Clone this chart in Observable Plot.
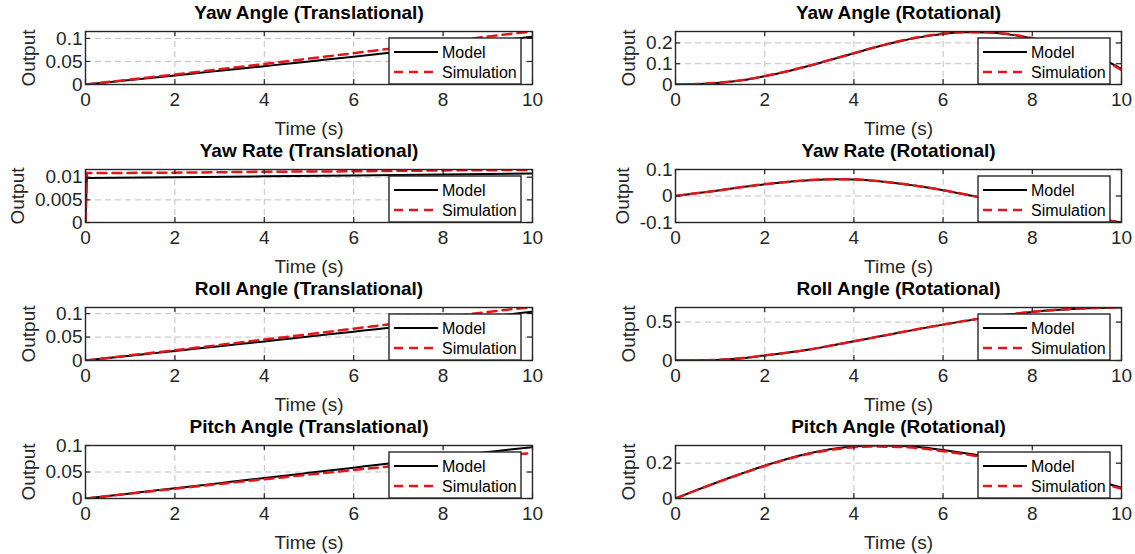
<!DOCTYPE html>
<html><head><meta charset="utf-8">
<script src="https://cdn.jsdelivr.net/npm/d3@7"></script>
<script src="https://cdn.jsdelivr.net/npm/@observablehq/plot@0.6"></script>
<style>
html,body{margin:0;padding:0;background:#fff;}
#fig{position:relative;width:1135px;height:554px;overflow:hidden;font-family:"Liberation Sans",Arial,Helvetica,sans-serif;}
#fig svg{position:absolute;overflow:visible;}
</style></head><body><div id="fig"></div>
<script>
// ---------- DATA ----------
const time = [0,0.5,1,1.5,2,2.5,3,3.5,4,4.5,5,5.5,6,6.5,7,7.5,8,8.5,9,9.5,10];
const xTicks = [0,2,4,6,8,10];
const xTickLabels = ["0","2","4","6","8","10"];
const seriesNames = ["Model","Simulation"];

const yawAngleTransModel = [0,0.005,0.0098,0.0147,0.0197,0.0247,0.0297,0.0347,0.0398,0.0449,0.0500,0.0552,0.0604,0.0656,0.0709,0.0762,0.0816,0.0870,0.0925,0.0980,0.1035];
const yawAngleTransSim   = [0,0.0054,0.0108,0.0163,0.0218,0.0274,0.0330,0.0387,0.0445,0.0503,0.0562,0.0621,0.0680,0.0740,0.0800,0.0860,0.0920,0.0980,0.1040,0.1098,0.1150];

const yawRateTransTime  = [0,0.03,2,4,6,8,10];
const yawRateTransModel = [0,0.0098,0.0100,0.0102,0.0104,0.0106,0.0108];
const yawRateTransSim   = [0,0.0109,0.0110,0.0112,0.0113,0.0115,0.0116];

const rollAngleTransModel = [0,0.0051,0.0102,0.0152,0.0203,0.0254,0.0305,0.0356,0.0407,0.0459,0.0511,0.0563,0.0615,0.0667,0.0720,0.0772,0.0825,0.0879,0.0932,0.0986,0.1040];
const rollAngleTransSim   = [0,0.0055,0.0110,0.0165,0.0220,0.0276,0.0332,0.0389,0.0446,0.0503,0.0561,0.0619,0.0678,0.0737,0.0796,0.0855,0.0915,0.0975,0.1035,0.1090,0.1135];

const pitchAngleTransModel = [0,0.0048,0.0096,0.0144,0.0193,0.0241,0.0290,0.0338,0.0387,0.0435,0.0484,0.0533,0.0582,0.0631,0.0680,0.0729,0.0778,0.0827,0.0876,0.0925,0.0970];
const pitchAngleTransSim   = [0,0.0046,0.0092,0.0138,0.0184,0.0229,0.0274,0.0319,0.0363,0.0407,0.0451,0.0494,0.0537,0.0579,0.0621,0.0663,0.0704,0.0745,0.0785,0.0825,0.0855];

const yawAngleRotModel = [0,0.002,0.008,0.020,0.040,0.063,0.090,0.120,0.150,0.180,0.207,0.228,0.243,0.251,0.250,0.240,0.222,0.198,0.168,0.130,0.075];
const yawAngleRotSim   = [0,0.002,0.009,0.021,0.041,0.064,0.091,0.121,0.151,0.181,0.208,0.230,0.245,0.253,0.252,0.242,0.223,0.198,0.167,0.128,0.070];

const yawRateRotModel = [0,0.011,0.022,0.034,0.044,0.053,0.059,0.063,0.062,0.057,0.047,0.036,0.022,0.006,-0.011,-0.028,-0.045,-0.060,-0.073,-0.086,-0.100];
const yawRateRotSim   = [0,0.011,0.022,0.034,0.045,0.053,0.060,0.063,0.063,0.057,0.048,0.036,0.022,0.006,-0.011,-0.028,-0.045,-0.060,-0.074,-0.087,-0.101];

const rollAngleRotModel = [0,0.002,0.010,0.030,0.065,0.100,0.142,0.195,0.250,0.305,0.360,0.415,0.467,0.516,0.560,0.600,0.632,0.657,0.674,0.685,0.690];
const rollAngleRotSim   = [0,0.002,0.010,0.031,0.066,0.101,0.143,0.196,0.251,0.306,0.361,0.416,0.467,0.517,0.561,0.601,0.634,0.659,0.676,0.687,0.692];

const pitchAngleRotModel = [0,0.050,0.098,0.143,0.186,0.224,0.256,0.280,0.295,0.300,0.299,0.290,0.274,0.256,0.236,0.212,0.185,0.156,0.125,0.095,0.062];
const pitchAngleRotSim   = [0,0.050,0.097,0.142,0.184,0.222,0.253,0.276,0.290,0.294,0.292,0.284,0.268,0.250,0.230,0.206,0.180,0.151,0.120,0.089,0.055];

const panelTitles = [
  "Yaw Angle (Translational)","Yaw Angle (Rotational)",
  "Yaw Rate (Translational)","Yaw Rate (Rotational)",
  "Roll Angle (Translational)","Roll Angle (Rotational)",
  "Pitch Angle (Translational)","Pitch Angle (Rotational)"
];
const panelTimes  = [time,time,yawRateTransTime,time,time,time,time,time];
const panelModels = [yawAngleTransModel,yawAngleRotModel,yawRateTransModel,yawRateRotModel,rollAngleTransModel,rollAngleRotModel,pitchAngleTransModel,pitchAngleRotModel];
const panelSims   = [yawAngleTransSim,yawAngleRotSim,yawRateTransSim,yawRateRotSim,rollAngleTransSim,rollAngleRotSim,pitchAngleTransSim,pitchAngleRotSim];
const panelYDomains = [[0,0.115],[0,0.255],[0,0.0117],[-0.1,0.1],[0,0.113],[0,0.69],[0,0.1],[0,0.3]];
const panelYTicks = [[0,0.05,0.1],[0,0.1,0.2],[0,0.005,0.01],[-0.1,0,0.1],[0,0.05,0.1],[0,0.5],[0,0.05,0.1],[0,0.2]];
const panelYTickLabels = [["0","0.05","0.1"],["0","0.1","0.2"],["0","0.005","0.01"],["-0.1","0","0.1"],["0","0.05","0.1"],["0","0.5"],["0","0.05","0.1"],["0","0.2"]];
const xLabel = "Time (s)";
const yLabel = "Output";

// ---------- LAYOUT / STYLE ----------
const FONT = '"Liberation Sans", Arial, Helvetica, sans-serif';
const TXT = "#262626";
const RED = "#e3171b";
const GRID = "#c0c0c0";
const cols = [{svgLeft:0, svgWidth:560, frameLeft:85, frameRight:532},
              {svgLeft:560, svgWidth:575, frameLeft:675, frameRight:1121}];
const rowH = 138, mTop = 31, frameH = 53;

const ctx = document.createElement("canvas").getContext("2d");
ctx.font = `19px ${FONT}`;

const fig = document.getElementById("fig");
panelTitles.forEach((title, i) => {
  const c = cols[i % 2], r = Math.floor(i / 2);
  const mL = c.frameLeft - c.svgLeft;
  const mR = c.svgLeft + c.svgWidth - c.frameRight;
  const W = c.frameRight - c.frameLeft;
  const tArr = panelTimes[i];
  const model = tArr.map((t, k) => ({t, v: panelModels[i][k]}));
  const sim = tArr.map((t, k) => ({t, v: panelSims[i][k]}));
  const yt = panelYTicks[i];
  const ytl = new Map(yt.map((v, k) => [v, panelYTickLabels[i][k]]));
  const xtl = new Map(xTicks.map((v, k) => [v, xTickLabels[k]]));
  const maxW = d3.max(panelYTickLabels[i], s => ctx.measureText(s).width);
  const curve = i === 2 ? "linear" : "monotone-x";

  const svg = Plot.plot({
    width: c.svgWidth, height: rowH,
    marginLeft: mL, marginRight: mR, marginTop: mTop, marginBottom: rowH - mTop - frameH,
    style: {fontFamily: FONT, fontSize: "19px", color: TXT, background: "transparent", overflow: "visible"},
    x: {domain: [0, 10]},
    y: {domain: panelYDomains[i]},
    marks: [
      Plot.gridX(xTicks, {stroke: GRID, strokeOpacity: 1, strokeWidth: 1, strokeDasharray: "6,4"}),
      Plot.gridY(yt, {stroke: GRID, strokeOpacity: 1, strokeWidth: 1, strokeDasharray: "6,4"}),
      Plot.line(model, {x: "t", y: "v", stroke: "#000", strokeWidth: 2, curve, clip: true}),
      Plot.line(sim, {x: "t", y: "v", stroke: RED, strokeWidth: 2.5, strokeDasharray: "9,6", curve, clip: true}),
      Plot.ruleX(xTicks, {stroke: TXT, strokeWidth: 1.2, insetTop: frameH - 5}),
      Plot.ruleX(xTicks, {stroke: TXT, strokeWidth: 1.2, insetBottom: frameH - 5}),
      Plot.ruleY(yt, {stroke: TXT, strokeWidth: 1.2, insetRight: W - 5}),
      Plot.ruleY(yt, {stroke: TXT, strokeWidth: 1.2, insetLeft: W - 5}),
      Plot.frame({stroke: TXT, strokeWidth: 1.4}),
      Plot.axisX(xTicks, {tickSize: 0, tickPadding: 8, label: null, fontSize: 19, tickFormat: d => xtl.get(d)}),
      Plot.axisY(yt, {tickSize: 0, tickPadding: 3, label: null, fontSize: 19, tickFormat: d => ytl.get(d)}),
      Plot.text([title], {text: d => d, frameAnchor: "top", dy: -19, textAnchor: "middle", fontWeight: "bold", fontSize: 19, fill: "#000", lineAnchor: "middle"}),
      Plot.text([xLabel], {text: d => d, frameAnchor: "bottom", dy: 44, textAnchor: "middle", fontSize: 19, fill: TXT, lineAnchor: "middle"}),
      Plot.text([yLabel], {text: d => d, frameAnchor: "left", dx: -(maxW + 20), rotate: -90, textAnchor: "middle", fontSize: 19, fill: TXT, lineAnchor: "middle"})
    ]
  });
  svg.style.left = c.svgLeft + "px";
  svg.style.top = (r * rowH) + "px";

  // legend box (upper-right inside frame, bottom aligned with frame)
  const lgW = 132, lgTop = mTop + 7, lgH = frameH - 7;
  const lx = mL + W - 11 - lgW;
  const g = d3.select(svg).append("g").attr("class", "legend");
  g.append("rect").attr("x", lx).attr("y", lgTop).attr("width", lgW).attr("height", lgH)
    .attr("fill", "#fff").attr("stroke", TXT).attr("stroke-width", 1.4);
  const rowsY = [lgTop + 14, lgTop + 34];
  seriesNames.forEach((name, k) => {
    g.append("line").attr("x1", lx + 5).attr("x2", lx + 49).attr("y1", rowsY[k]).attr("y2", rowsY[k])
      .attr("stroke", k === 0 ? "#000" : RED).attr("stroke-width", k === 0 ? 2 : 2.5)
      .attr("stroke-dasharray", k === 0 ? null : "9,6");
    g.append("text").attr("x", lx + 53).attr("y", rowsY[k]).attr("dy", "0.35em")
      .attr("text-anchor", "start")
      .attr("font-size", 16).attr("fill", "#000").attr("font-family", FONT).text(name);
  });
  fig.appendChild(svg);
});
</script></body></html>
